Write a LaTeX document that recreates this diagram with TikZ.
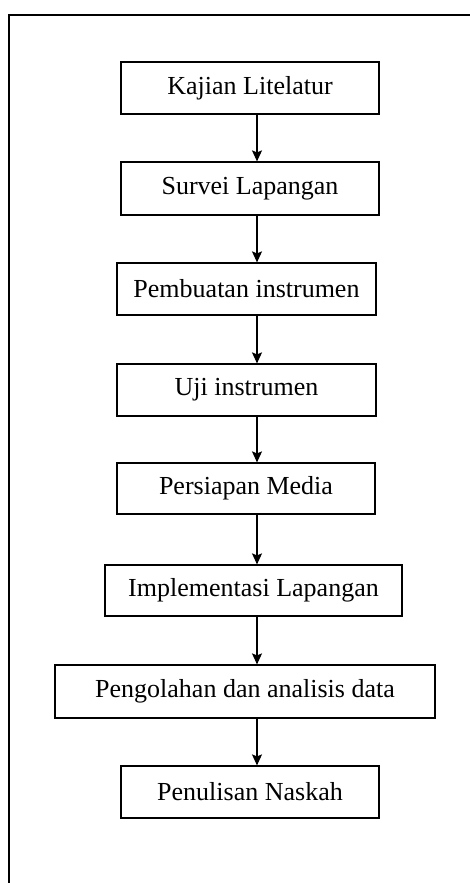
\documentclass[tikz,border=0pt]{standalone}
\usepackage{fontspec}
\setmainfont{Liberation Serif}
\usetikzlibrary{shapes.geometric, arrows.meta}
\usetikzlibrary{calc}
\tikzstyle{arrow} = [line width=1.3pt,-{Stealth[length=11pt,width=10pt,inset=2pt]}]
\tikzstyle{stepbox} = [draw, line width=1.2pt, rectangle, inner sep=0pt, minimum height=52pt, font=\fontsize{26}{30}\selectfont]

\begin{document}
\begin{tikzpicture}[x=1pt,y=-1pt]
\useasboundingbox (0,0) rectangle (470,883);
\clip (0,0) rectangle (470,883);

% outer frame
\draw[line width=1.7pt] (9,15) rectangle (520,940);

\node[stepbox, minimum width=258pt] (kajian) at (250,88) {Kajian Litelatur};
\node[stepbox, minimum width=258pt, minimum height=53pt] (survei) at (250,188.5) {Survei Lapangan};
\node[stepbox, minimum width=259pt] (buat) at (246.5,289) {Pembuatan instrumen};
\node[stepbox, minimum width=259pt] (uji) at (246.5,390) {Uji instrumen};
\node[stepbox, minimum width=258pt, minimum height=51pt] (media) at (246,488.5) {Persiapan Media};
\node[stepbox, minimum width=297pt, minimum height=51pt] (implementasi) at (253.5,590.5) {Implementasi Lapangan};
\node[stepbox, minimum width=380pt, minimum height=53pt] (olah) at (245,691.5) {Pengolahan dan analisis data};
\node[stepbox, minimum width=258pt] (tulis) at (250,792) {Penulisan Naskah};

\coordinate (ax) at (257,0);
\foreach \a/\b in {kajian/survei, survei/buat, buat/uji, uji/media, media/implementasi, implementasi/olah, olah/tulis}{
	\draw[arrow] (\a.south -| ax) -- (\b.north -| ax);
}
\end{tikzpicture}
\end{document}
